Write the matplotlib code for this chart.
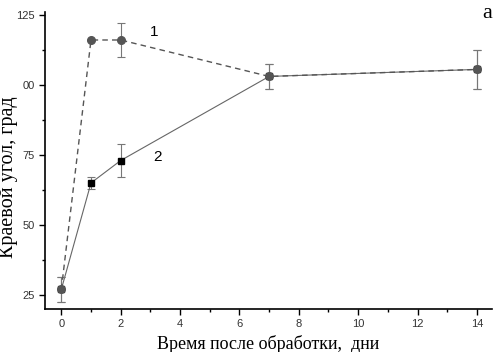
import matplotlib
matplotlib.use('Agg')
import matplotlib.pyplot as plt
import matplotlib.ticker as mticker

# days after treatment and contact angle (deg)
days = [0, 1, 2, 7, 14]
angle_1 = [27, 116, 116, 103, 105.5]
err_1 = [4.5, 0, 6, 4.5, 7]
angle_2 = [27, 65, 73, 103, 105.5]
err_2 = [4.5, 2, 6, 4.5, 7]

yticks = [25, 50, 75, 100, 125]
ytick_labels = ['25', '50', '75', '00', '125']

fig = plt.figure(figsize=(4.97, 3.52), dpi=100)
ax = fig.add_axes([0.0905, 0.122, 0.899, 0.844])

ax.errorbar(days, angle_2, yerr=err_2, fmt='-s', color='#666666', lw=0.8,
            mfc='black', mec='black', ms=5, ecolor='#777777', elinewidth=0.8,
            capsize=3, capthick=0.8, zorder=3)
ax.errorbar(days, angle_1, yerr=err_1, fmt='--o', color='#555555', lw=1.0,
            dashes=(4, 3), mfc='#555555', mec='#555555', ms=5.5,
            ecolor='#777777', elinewidth=0.8, capsize=3, capthick=0.8, zorder=4)

ax.text(3.0, 117.5, '1', fontsize=11, family='Liberation Sans')
ax.text(3.1, 73, '2', fontsize=11, family='Liberation Sans')
fig.text(0.99, 0.99, 'а', fontsize=16, family='Liberation Serif', ha='right', va='top')

ax.set_xlim(-0.55, 14.5)
ax.set_ylim(20, 126)
ax.set_xticks(range(0, 15, 2))
ax.xaxis.set_minor_locator(mticker.MultipleLocator(1))
ax.set_yticks(yticks)
ax.set_yticklabels(ytick_labels)
ax.yaxis.set_minor_locator(mticker.MultipleLocator(12.5))

for s in ['top', 'right']:
    ax.spines[s].set_visible(False)
for s in ['left', 'bottom']:
    ax.spines[s].set_linewidth(1.2)

ax.tick_params(which='major', length=4, width=1, labelsize=8, direction='out',
               labelcolor='#333333')
ax.tick_params(which='minor', length=2.5, width=1, direction='out')
for lbl in ax.get_xticklabels() + ax.get_yticklabels():
    lbl.set_family('Liberation Sans')

ax.set_xlabel('Время после обработки,  дни', fontsize=13, family='Liberation Serif')
ax.set_ylabel('Краевой угол, град', fontsize=14.5, family='Liberation Serif')
ax.yaxis.set_label_coords(-0.06, 0.445)

fig.savefig('out.png', dpi=100)
